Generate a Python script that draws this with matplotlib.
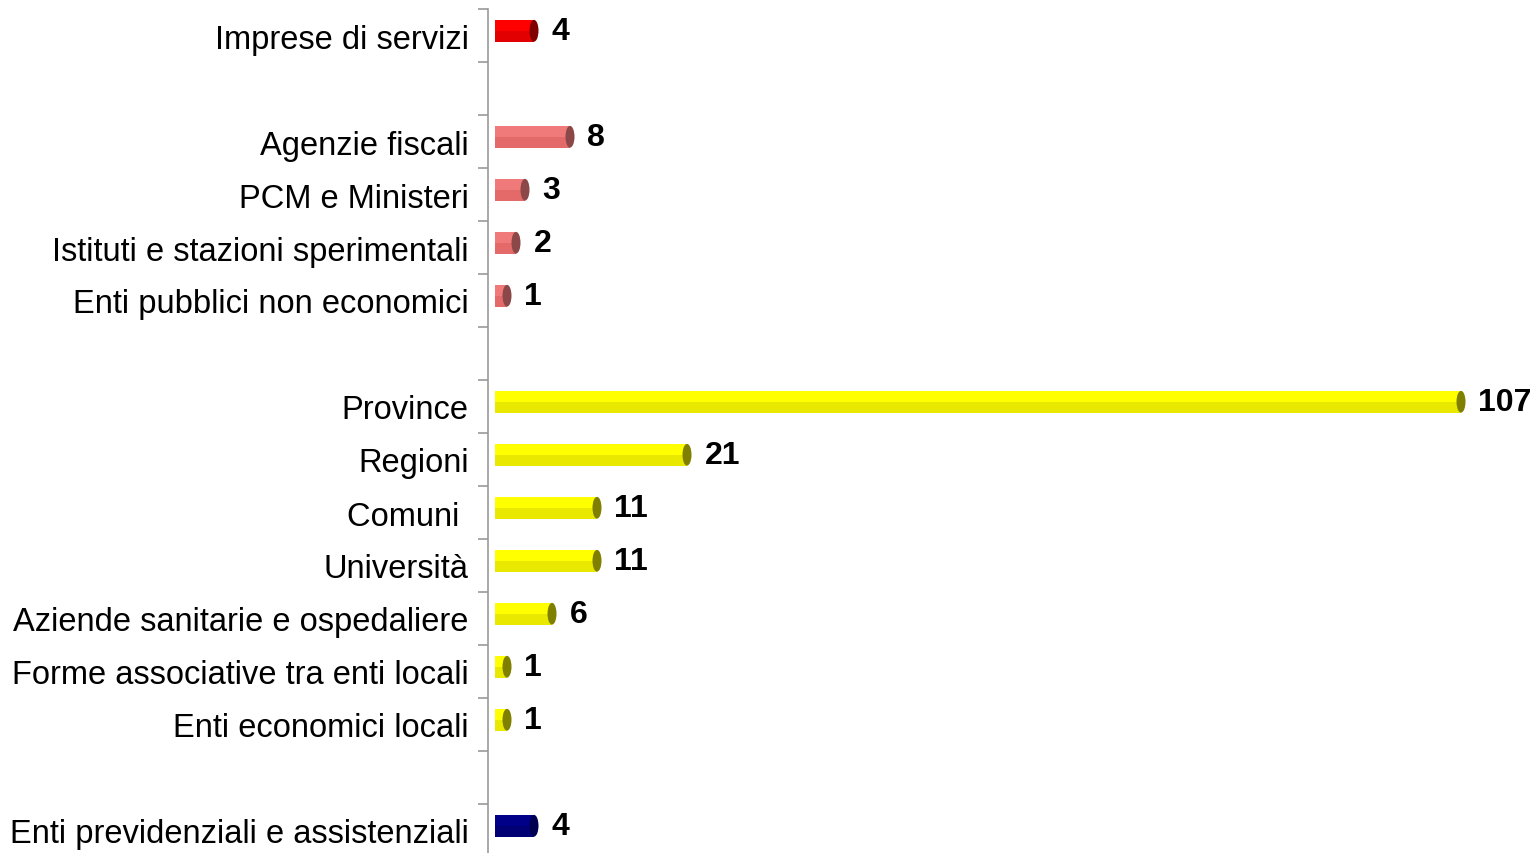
import matplotlib
matplotlib.use("Agg")
import matplotlib.pyplot as plt
from matplotlib.patches import Ellipse

plt.rcParams['font.family'] = ['Liberation Sans', 'DejaVu Sans']

# data, top to bottom ("" = empty gap row)
categories = ["Imprese di servizi", "",
              "Agenzie fiscali", "PCM e Ministeri", "Istituti e stazioni sperimentali",
              "Enti pubblici non economici", "",
              "Province", "Regioni", "Comuni ", "Università",
              "Aziende sanitarie e ospedaliere", "Forme associative tra enti locali",
              "Enti economici locali", "",
              "Enti previdenziali e assistenziali"]
values = [4, None, 8, 3, 2, 1, None, 107, 21, 11, 11, 6, 1, 1, None, 4]
groups = ["imprese", None, "stato", "stato", "stato", "stato", None,
          "locali", "locali", "locali", "locali", "locali", "locali", "locali", None,
          "previd"]

# face, lower shade, end cap
palette = {
    "imprese": ("#ff0000", "#e20000", "#800000"),
    "stato": ("#f07a7a", "#e46a6a", "#8c4848"),
    "locali": ("#ffff00", "#e8e800", "#808000"),
    "previd": ("#000088", "#000074", "#000050"),
}

fig = plt.figure(figsize=(15.34, 8.54), dpi=100)
ax = fig.add_axes([488 / 1534, -4 / 854, 1 - 488 / 1534, 848 / 854])

px = 9.0  # pixels per unit on x
ax.set_xlim(-7 / px, (1534 - 495) / px)
ax.set_ylim(len(categories) - 0.5, -0.5)

bar_h = 0.41
shift = -0.09
cap_w = 9 / px
extra = 3 / px  # cylinder depth added to each bar

for i, (v, g) in enumerate(zip(values, groups)):
    if v is None:
        continue
    face, shade, cap = palette[g]
    yc = i + shift
    end = v + extra
    ax.barh(yc, end, height=bar_h, color=face, edgecolor="none", zorder=2)
    ax.barh(yc + bar_h * 0.18, end, height=bar_h * 0.64, color=shade,
            edgecolor="none", zorder=2.1)
    ax.barh(yc - bar_h * 0.12, end, height=bar_h * 0.3, color=face,
            edgecolor="none", zorder=2.2)
    ax.add_patch(Ellipse((end, yc), cap_w, bar_h, facecolor=cap,
                         edgecolor="none", zorder=3))
    ax.text(end + cap_w / 2 + 13 / px, yc, str(v), ha="left", va="center",
            fontsize=23, fontweight="bold", color="black")

ax.set_yticks(range(len(categories)))
ax.set_yticklabels(categories, fontsize=23.5)
ax.set_yticks([i + 0.5 for i in range(-1, len(categories))], minor=True)
ax.tick_params(axis="y", which="major", length=0, pad=14)
ax.tick_params(axis="y", which="minor", length=7, color="#999999", width=1.2)
ax.set_xticks([])

for s in ["top", "right", "bottom"]:
    ax.spines[s].set_visible(False)
ax.spines["left"].set_color("#999999")
ax.spines["left"].set_linewidth(1.2)

fig.savefig("out.png", dpi=100)
